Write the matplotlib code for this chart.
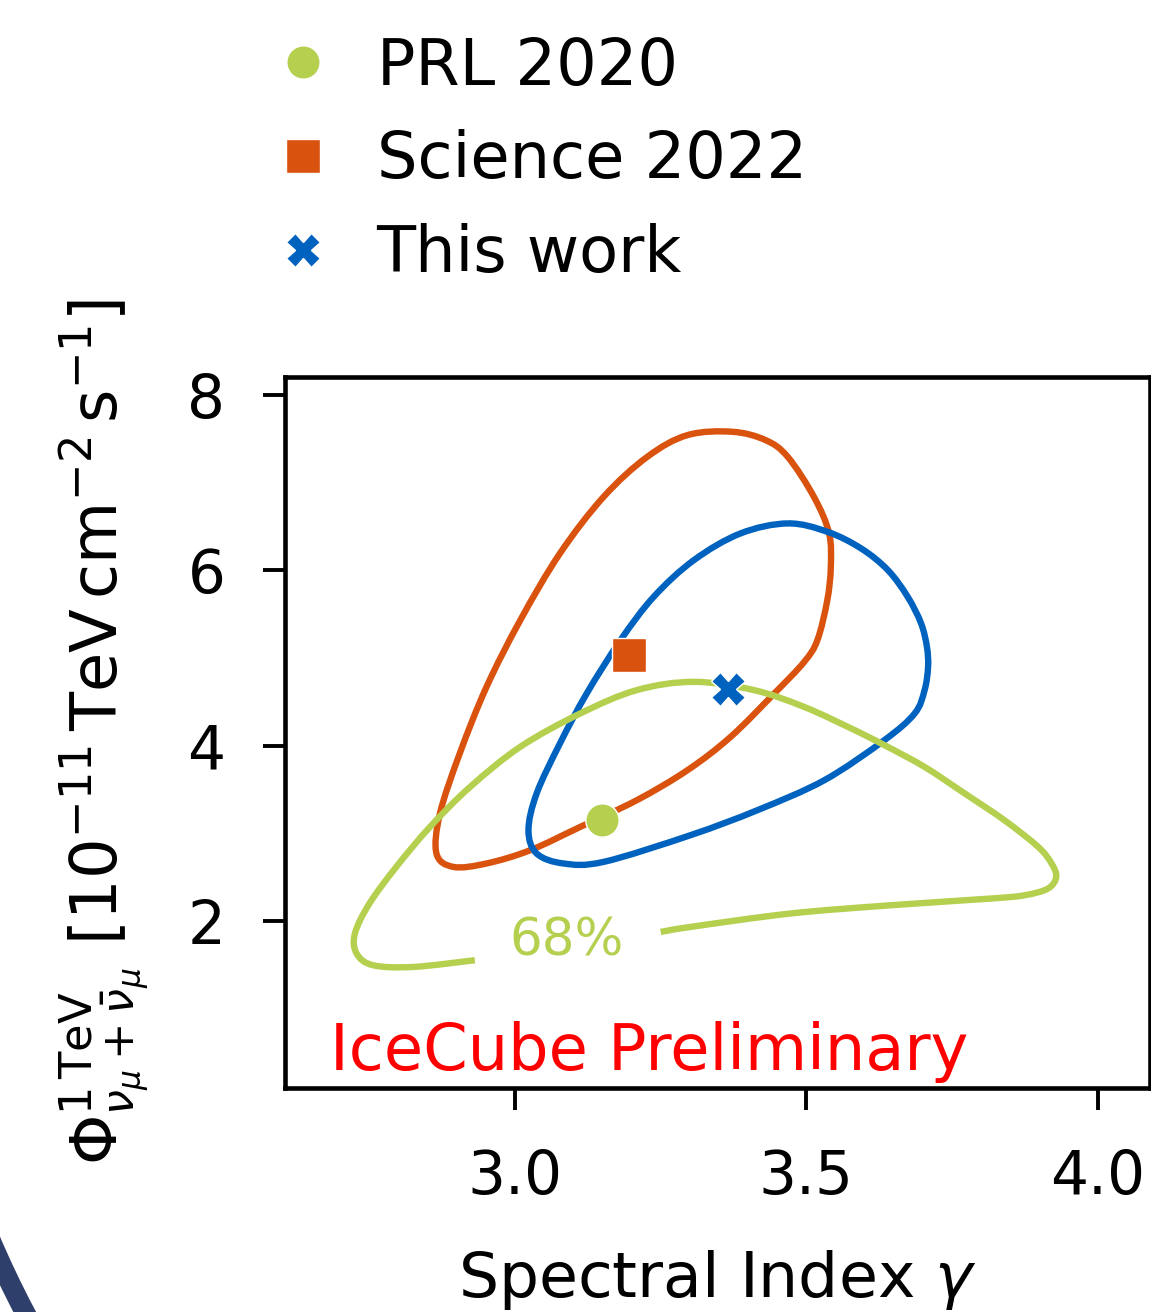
import matplotlib
matplotlib.use("Agg")
import numpy as np
import matplotlib.pyplot as plt
from matplotlib.patches import Arc, PathPatch
from matplotlib.path import Path

# -----------------------------------------------------------------------------
# Data
# -----------------------------------------------------------------------------
best_fit_labels = ["PRL 2020", "Science 2022", "This work"]
best_fit_gamma = [3.15, 3.195, 3.365]
best_fit_flux = [3.15, 5.03, 4.64]

# 68% contour, Science 2022 (closed)
sci_gamma = [3.373, 3.430, 3.468, 3.513, 3.539, 3.542, 3.536, 3.519, 3.496, 3.445,
             3.370, 3.296, 3.209, 3.112, 3.026, 2.951, 2.894, 2.865, 2.871, 2.905,
             2.951, 3.009, 3.077, 3.152, 3.227, 3.296]
sci_flux = [7.576, 7.481, 7.291, 6.835, 6.422, 6.034, 5.658, 5.202, 4.952, 4.595,
            4.100, 3.721, 3.379, 3.075, 2.809, 2.658, 2.619, 2.772, 3.227, 3.911,
            4.670, 5.430, 6.190, 6.835, 7.291, 7.538]

# 68% contour, this work (closed)
tw_gamma = [3.468, 3.536, 3.594, 3.640, 3.674, 3.697, 3.707, 3.709, 3.703, 3.686,
            3.634, 3.531, 3.416, 3.301, 3.152, 3.083, 3.037, 3.023, 3.037,
            3.077, 3.123, 3.181, 3.238, 3.307, 3.387]
tw_flux = [6.532, 6.437, 6.247, 6.000, 5.696, 5.393, 5.126, 4.898, 4.632, 4.367,
           4.063, 3.607, 3.265, 2.980, 2.676, 2.658, 2.772, 3.037, 3.455,
           4.025, 4.595, 5.202, 5.696, 6.114, 6.418]

# 68% contour, PRL 2020 (open where the label sits)
prl_gamma = [3.250, 3.301, 3.473, 3.645, 3.818, 3.875, 3.915, 3.929, 3.921, 3.898,
             3.840, 3.772, 3.703, 3.634, 3.577, 3.496, 3.410, 3.307, 3.209, 3.112,
             3.009, 2.923, 2.854, 2.796, 2.750, 2.725, 2.728, 2.756, 2.825, 2.931]
prl_flux = [1.878, 1.935, 2.088, 2.182, 2.259, 2.296, 2.373, 2.505, 2.658, 2.847,
            3.151, 3.455, 3.758, 4.006, 4.196, 4.442, 4.633, 4.727, 4.633, 4.367,
            3.987, 3.531, 3.075, 2.619, 2.202, 1.860, 1.632, 1.499, 1.479, 1.556]

x_ticks = [3.0, 3.5, 4.0]
y_ticks = [2, 4, 6, 8]

GREEN = "#b5cf4f"
ORANGE = "#d9520e"
BLUE = "#0062bf"


def smooth_path(xs, ys, closed):
    """Catmull-Rom through the read points, written as cubic Bezier segments."""
    p = np.column_stack([xs, ys]).astype(float)
    n = len(p)
    if closed:
        idx = lambda i: p[i % n]
        segs = range(n)
    else:
        idx = lambda i: p[min(max(i, 0), n - 1)]
        segs = range(n - 1)
    verts = [p[0]]
    codes = [Path.MOVETO]
    for i in segs:
        p0, p1, p2, p3 = idx(i - 1), idx(i), idx(i + 1), idx(i + 2)
        verts += [p1 + (p2 - p0) / 6.0, p2 - (p3 - p1) / 6.0, p2]
        codes += [Path.CURVE4] * 3
    return Path(verts, codes)


# -----------------------------------------------------------------------------
# Figure
# -----------------------------------------------------------------------------
fig = plt.figure(figsize=(11.51, 13.12), dpi=100)
ax = fig.add_axes([285 / 1151, 1 - 1088 / 1312, 865 / 1151, 711 / 1312])

lw = 4.6
for xs, ys, c, closed in [(sci_gamma, sci_flux, ORANGE, True),
                          (tw_gamma, tw_flux, BLUE, True),
                          (prl_gamma, prl_flux, GREEN, False)]:
    ax.add_patch(PathPatch(smooth_path(xs, ys, closed), fill=False, edgecolor=c,
                           lw=lw, capstyle="butt", joinstyle="round"))

markers = ["o", "s", "X"]
colors = [GREEN, ORANGE, BLUE]
handles = []
for g, f, m, c, lab in zip(best_fit_gamma, best_fit_flux, markers, colors, best_fit_labels):
    h, = ax.plot(g, f, ls="none", marker=m, ms=24, color=c, mec="white", mew=1,
                 label=lab, zorder=5)
    handles.append(h)

ax.text(3.089, 1.764, "68%", color=GREEN, fontsize=37, ha="center", va="center")
ax.text(2.682, 0.30, "IceCube Preliminary", color="#ff0000", fontsize=46,
        ha="left", va="baseline")

ax.set_xlim(2.605, 4.09)
ax.set_ylim(0.1, 8.2)
ax.set_xticks(x_ticks)
ax.set_xticklabels(["3.0", "3.5", "4.0"])
ax.set_yticks(y_ticks)

for s in ax.spines.values():
    s.set_linewidth(3.3)
ax.tick_params(labelsize=43, length=16, width=2.8, pad=27)

ax.set_xlabel(r"Spectral Index $\gamma$", fontsize=45.5)
ax.xaxis.set_label_coords(0.5, -0.225)
ax.set_ylabel(r"$\Phi^{1\,\mathrm{TeV}}_{\nu_\mu+\bar{\nu}_\mu}\ [10^{-11}\,\mathrm{TeV}\,\mathrm{cm}^{-2}\,\mathrm{s}^{-1}]$",
              fontsize=46)
ax.yaxis.set_label_coords(-0.154, 0.5)

fig.legend(handles=handles, loc="upper left", bbox_to_anchor=(220 / 1151, 1 + 22 / 1312),
           frameon=False, fontsize=46, handlelength=0.8, handletextpad=0.75,
           labelspacing=0.5, markerscale=1.0)

# decorative arc from the slide background
arc = Arc((910 / 1151, 1 - 847 / 1312), 2000 / 1151, 2000 / 1312,
          transform=fig.transFigure, color="#2f3f6b", lw=14.5, theta1=180, theta2=260)
fig.patches.append(arc)

fig.savefig("out.png", dpi=100)
